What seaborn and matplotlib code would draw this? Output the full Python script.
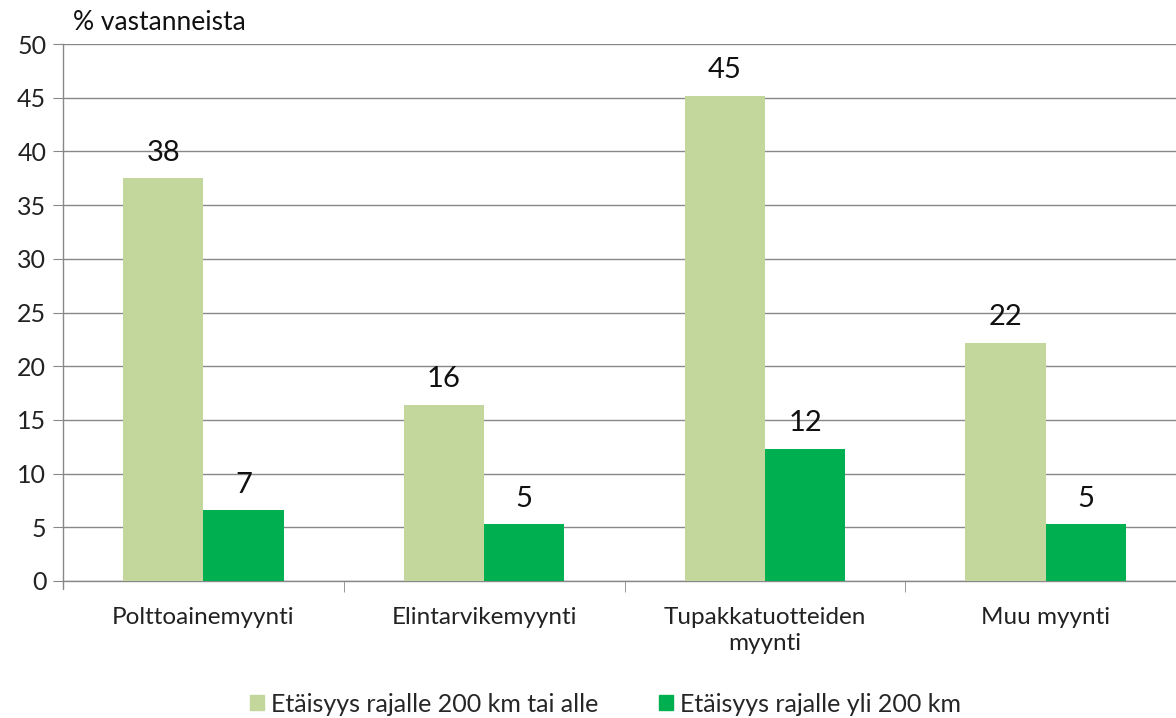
import matplotlib
matplotlib.use("Agg")
import matplotlib.pyplot as plt
import seaborn as sns
import pandas as pd

categories = ["Polttoainemyynti", "Elintarvikemyynti", "Tupakkatuotteiden\nmyynti", "Muu myynti"]
series_names = ["Etäisyys rajalle 200 km tai alle", "Etäisyys rajalle yli 200 km"]
near_values = [37.5, 16.4, 45.2, 22.2]
far_values = [6.6, 5.3, 12.3, 5.3]
colors = ["#C3D69B", "#00B050"]

df = pd.DataFrame({
    "cat": categories * 2,
    "series": [series_names[0]] * 4 + [series_names[1]] * 4,
    "value": near_values + far_values,
})

sns.set_style("white")
plt.rcParams["font.family"] = ["Lato", "DejaVu Sans"]

fig = plt.figure(figsize=(11.76, 7.18), dpi=100)
ax = fig.add_axes([63/1176, 1-581/718, (1186-63)/1176, (581-44)/718])

sns.barplot(data=df, x="cat", y="value", hue="series", palette=colors,
            width=0.572, gap=0, saturation=1, linewidth=0, ax=ax, legend=True, zorder=3)

ax.set_ylim(0, 50)
ax.set_xlim(-0.5, 3.5)
ax.set_yticks(range(0, 51, 5))
ax.yaxis.grid(True, color="#888888", linewidth=1, zorder=0)
ax.set_axisbelow(True)
ax.set_xlabel("")
ax.set_ylabel("")

for s in ["top", "right"]:
    ax.spines[s].set_visible(False)
for s in ["left", "bottom"]:
    ax.spines[s].set_color("#888888")
    ax.spines[s].set_linewidth(1)

ax.tick_params(axis="y", left=True, length=7, color="#888888", labelsize=18, pad=5, labelcolor="#222222")
ax.set_xticks([0, 1, 2, 3])
ax.set_xticklabels(categories, fontsize=17.5, color="#222222", linespacing=1.3)
ax.tick_params(axis="x", bottom=False, pad=15)
ax.set_xticks([0.5, 1.5, 2.5], minor=True)
ax.tick_params(axis="x", which="minor", bottom=True, length=8, color="#888888")
ax.plot([-0.5, -0.5], [0, -0.75], color="#888888", lw=1, clip_on=False)

for cont in ax.containers:
    for bar in cont:
        h = bar.get_height()
        ax.annotate(f"{h:.0f}", (bar.get_x() + bar.get_width()/2, h),
                    xytext=(0, 9), textcoords="offset points",
                    ha="center", va="bottom", fontsize=21, color="#111111")

ax.legend_.remove()
handles = [plt.Rectangle((0, 0), 1, 1, color=c) for c in colors]
fig.legend(handles, series_names, loc="center", bbox_to_anchor=(0.515, 1-704/718),
           ncol=2, frameon=False, fontsize=18, handlelength=0.55, handleheight=0.55,
           handletextpad=0.3, columnspacing=2.4)

fig.text(73/1176, 1-22/718, "% vastanneista", fontsize=19, ha="left", va="center", color="#111111")

fig.savefig("out.png", dpi=100)
